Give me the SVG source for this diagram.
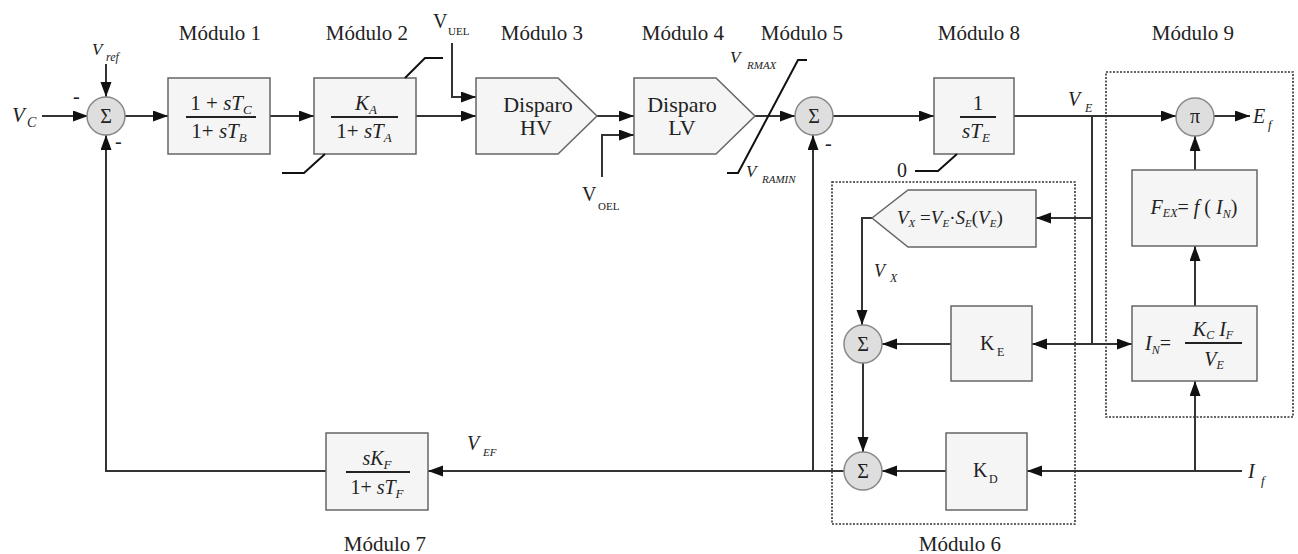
<svg xmlns="http://www.w3.org/2000/svg" width="1298" height="554" viewBox="0 0 1298 554" font-family="'Liberation Serif', 'DejaVu Serif', serif">
<defs>
<marker id="arr" markerWidth="16" markerHeight="12" refX="15" refY="5.5" orient="auto" markerUnits="userSpaceOnUse"><path d="M0,0 L15,5.5 L0,11 z" fill="#111"/></marker>
</defs>
<style>
.box{fill:#f5f5f5;stroke:#666;stroke-width:1.5}
.sum{fill:#dedede;stroke:#888;stroke-width:1.5}
.ln{fill:none;stroke:#333;stroke-width:2}
.a{marker-end:url(#arr)}
.dot{fill:none;stroke:#333;stroke-width:1.6;stroke-dasharray:2 1.5}
.lim{fill:none;stroke:#111;stroke-width:2}
.frac{stroke:#222;stroke-width:2}
text{font-family:'Liberation Serif', 'DejaVu Serif', serif;fill:#222}
.title{font-size:21px}
.m{font-size:21px}
.i{font-style:italic}
.sub{font-size:13px}
</style>
<rect width="1298" height="554" fill="#fff"/>

<g id="connectors">
<path class="ln a" d="M42,116 H88"/>
<path class="ln a" d="M106,64 V97"/>
<path class="ln a" d="M125,116 H168"/>
<path class="ln a" d="M270,116 H314"/>
<path class="ln a" d="M416,116 H476"/>
<path class="ln a" d="M452,43 V97 H476"/>
<path class="ln a" d="M597,116 H634"/>
<path class="ln a" d="M602,177 V135 H634"/>
<path class="ln a" d="M755,116 H795"/>
<path class="ln a" d="M833,116 H934"/>
<path class="ln a" d="M1014,116 H1176"/>
<path class="ln a" d="M1214,116 H1250"/>
<path class="ln a" d="M1195,170 V136"/>
<path class="ln a" d="M1195,306 V246"/>
<path class="ln a" d="M1242,471 H1027"/>
<path class="ln a" d="M1195,471 V381"/>
<path class="ln" d="M1092,116 V344"/>
<path class="ln a" d="M1092,218 H1036"/>
<path class="ln a" d="M1092,344 H1032"/>
<path class="ln a" d="M1092,344 H1132"/>
<path class="ln a" d="M872,218 H862 V325"/>
<path class="ln a" d="M951,344 H882"/>
<path class="ln a" d="M863,363 V452"/>
<path class="ln a" d="M946,471 H882"/>
<path class="ln a" d="M844,471 H428"/>
<path class="ln a" d="M813,471 V135"/>
<path class="ln a" d="M326,471 H106 V135"/>
</g>

<g id="input-vc">
<text x="12" y="122" class="i" font-size="21">V</text>
<text x="27" y="127" class="i" font-size="14">C</text>
</g>
<g id="input-vref">
<text x="92" y="55" class="i" font-size="17">V</text>
<text x="106" y="61" class="i" font-size="12">ref</text>
</g>

<g id="sum1">
<circle class="sum" cx="106" cy="116" r="19"/>
<text x="106" y="123" text-anchor="middle" font-size="20">Σ</text>
<text x="73" y="103" font-size="20">-</text>
<text x="115" y="148" font-size="20">-</text>
</g>

<g id="modulo1">
<text x="220" y="40" text-anchor="middle" class="title">Módulo 1</text>
<rect class="box" x="168" y="78" width="102" height="76"/>
<text x="221" y="110" text-anchor="middle" class="m">1 + <tspan class="i">sT</tspan><tspan class="i sub" dy="4">C</tspan></text>
<line class="frac" x1="186" y1="117" x2="256" y2="117"/>
<text x="219" y="138" text-anchor="middle" class="m">1+ <tspan class="i">sT</tspan><tspan class="i sub" dy="4">B</tspan></text>
</g>

<g id="modulo2">
<text x="367" y="40" text-anchor="middle" class="title">Módulo 2</text>
<rect class="box" x="314" y="78" width="102" height="76"/>
<text x="366" y="110" text-anchor="middle" class="m"><tspan class="i">K</tspan><tspan class="i sub" dy="4">A</tspan></text>
<line class="frac" x1="331" y1="117" x2="398" y2="117"/>
<text x="364" y="138" text-anchor="middle" class="m">1+ <tspan class="i">sT</tspan><tspan class="i sub" dy="4">A</tspan></text>
<path class="lim" d="M405,78 L425,58 H443"/>
<path class="lim" d="M325,154 L304,173 H282"/>
</g>

<g id="v-uel">
<text x="433" y="28" font-size="20">V</text>
<text x="448" y="35" font-size="11">UEL</text>
</g>

<g id="modulo3">
<text x="542" y="40" text-anchor="middle" class="title">Módulo 3</text>
<polygon class="box" points="476,78 558,78 597,116 558,154 476,154"/>
<text x="538" y="112" text-anchor="middle" font-size="22">Disparo</text>
<text x="536" y="135" text-anchor="middle" font-size="22">HV</text>
</g>

<g id="modulo4">
<text x="683" y="40" text-anchor="middle" class="title">Módulo 4</text>
<polygon class="box" points="634,78 716,78 755,116 716,154 634,154"/>
<text x="682" y="112" text-anchor="middle" font-size="22">Disparo</text>
<text x="682" y="135" text-anchor="middle" font-size="22">LV</text>
</g>

<g id="v-oel">
<text x="582" y="201" font-size="20">V</text>
<text x="598" y="210" font-size="11">OEL</text>
</g>

<g id="modulo5">
<text x="802" y="40" text-anchor="middle" class="title">Módulo 5</text>
<path class="lim" d="M727,173 H738 L798,60 H807"/>
<text x="730" y="63" class="i" font-size="17">V</text>
<text x="747" y="69" class="i" font-size="11">RMAX</text>
<text x="746" y="177" class="i" font-size="17">V</text>
<text x="762" y="183" class="i" font-size="11">RAMIN</text>
<circle class="sum" cx="814" cy="116" r="19"/>
<text x="814" y="123" text-anchor="middle" font-size="20">Σ</text>
<text x="825" y="150" font-size="20">-</text>
</g>

<g id="modulo8">
<text x="979" y="40" text-anchor="middle" class="title">Módulo 8</text>
<rect class="box" x="934" y="78" width="80" height="76"/>
<text x="978" y="110" text-anchor="middle" class="m">1</text>
<line class="frac" x1="960" y1="117" x2="996" y2="117"/>
<text x="976" y="138" text-anchor="middle" class="m"><tspan class="i">sT</tspan><tspan class="i sub" dy="4">E</tspan></text>
<path class="lim" d="M957,154 L938,171 H915"/>
<text x="897" y="177" font-size="20">0</text>
</g>

<g id="label-ve">
<text x="1068" y="106" class="i" font-size="20">V</text>
<text x="1085" y="112" class="i" font-size="12">E</text>
</g>

<g id="modulo9">
<text x="1193" y="40" text-anchor="middle" class="title">Módulo 9</text>
<rect class="dot" x="1106" y="72" width="187" height="345"/>
<circle class="sum" cx="1195" cy="117" r="19"/>
<text x="1195" y="123" text-anchor="middle" font-size="20">π</text>
<rect class="box" x="1132" y="170" width="125" height="76"/>
<text x="1194" y="214" text-anchor="middle" font-size="20"><tspan class="i">F</tspan><tspan class="i" font-size="12" dy="3">EX</tspan><tspan dy="-3">= </tspan><tspan class="i">f</tspan> ( <tspan class="i">I</tspan><tspan class="i" font-size="12" dy="4">N</tspan><tspan dy="-4">)</tspan></text>
<rect class="box" x="1132" y="306" width="125" height="75"/>
<text x="1145" y="350" font-size="20"><tspan class="i">I</tspan><tspan class="i" font-size="12" dy="4">N</tspan><tspan dy="-4">=</tspan></text>
<text x="1213" y="336" text-anchor="middle" font-size="20"><tspan class="i">K</tspan><tspan class="i" font-size="12" dy="3">C</tspan><tspan dy="-3"> </tspan><tspan class="i">I</tspan><tspan class="i" font-size="12" dy="3">F</tspan></text>
<line class="frac" x1="1185" y1="343" x2="1242" y2="343"/>
<text x="1214" y="366" text-anchor="middle" font-size="20"><tspan class="i">V</tspan><tspan class="i" font-size="12" dy="3">E</tspan></text>
</g>

<g id="output-ef">
<text x="1253" y="123" class="i" font-size="20">E</text>
<text x="1268" y="129" class="i" font-size="13">f</text>
</g>

<g id="modulo6">
<text x="960" y="551" text-anchor="middle" class="title">Módulo 6</text>
<rect class="dot" x="832" y="182" width="243" height="342"/>
<polygon class="box" points="872,218 908,190 1036,190 1036,247 908,247"/>
<text x="897" y="224" font-size="19"><tspan class="i">V</tspan><tspan class="i" font-size="11" dy="3">X</tspan><tspan dy="-3"> =</tspan><tspan class="i">V</tspan><tspan class="i" font-size="11" dy="3">E</tspan><tspan dy="-3">·</tspan><tspan class="i">S</tspan><tspan class="i" font-size="11" dy="3">E</tspan><tspan dy="-3">(</tspan><tspan class="i">V</tspan><tspan class="i" font-size="11" dy="3">E</tspan><tspan dy="-3">)</tspan></text>
<text x="874" y="277" class="i" font-size="18">V</text>
<text x="890" y="282" class="i" font-size="12">X</text>
<circle class="sum" cx="863" cy="344" r="19"/>
<text x="863" y="351" text-anchor="middle" font-size="20">Σ</text>
<rect class="box" x="951" y="306" width="81" height="75"/>
<text x="980" y="350" font-size="20">K</text>
<text x="997" y="356" font-size="12">E</text>
<circle class="sum" cx="863" cy="471" r="19"/>
<text x="863" y="478" text-anchor="middle" font-size="20">Σ</text>
<rect class="box" x="946" y="433" width="81" height="77"/>
<text x="973" y="477" font-size="20">K</text>
<text x="989" y="483" font-size="12">D</text>
</g>

<g id="label-vef">
<text x="467" y="450" class="i" font-size="20">V</text>
<text x="483" y="456" class="i" font-size="11">EF</text>
</g>

<g id="modulo7">
<text x="385" y="551" text-anchor="middle" class="title">Módulo 7</text>
<rect class="box" x="326" y="433" width="102" height="77"/>
<text x="377" y="465" text-anchor="middle" font-size="20"><tspan class="i">sK</tspan><tspan class="i sub" dy="4">F</tspan></text>
<line class="frac" x1="346" y1="472" x2="410" y2="472"/>
<text x="377" y="494" text-anchor="middle" font-size="20">1+ <tspan class="i">sT</tspan><tspan class="i sub" dy="4">F</tspan></text>
</g>

<g id="input-if">
<text x="1248" y="478" class="i" font-size="20">I</text>
<text x="1261" y="485" class="i" font-size="13">f</text>
</g>
</svg>
